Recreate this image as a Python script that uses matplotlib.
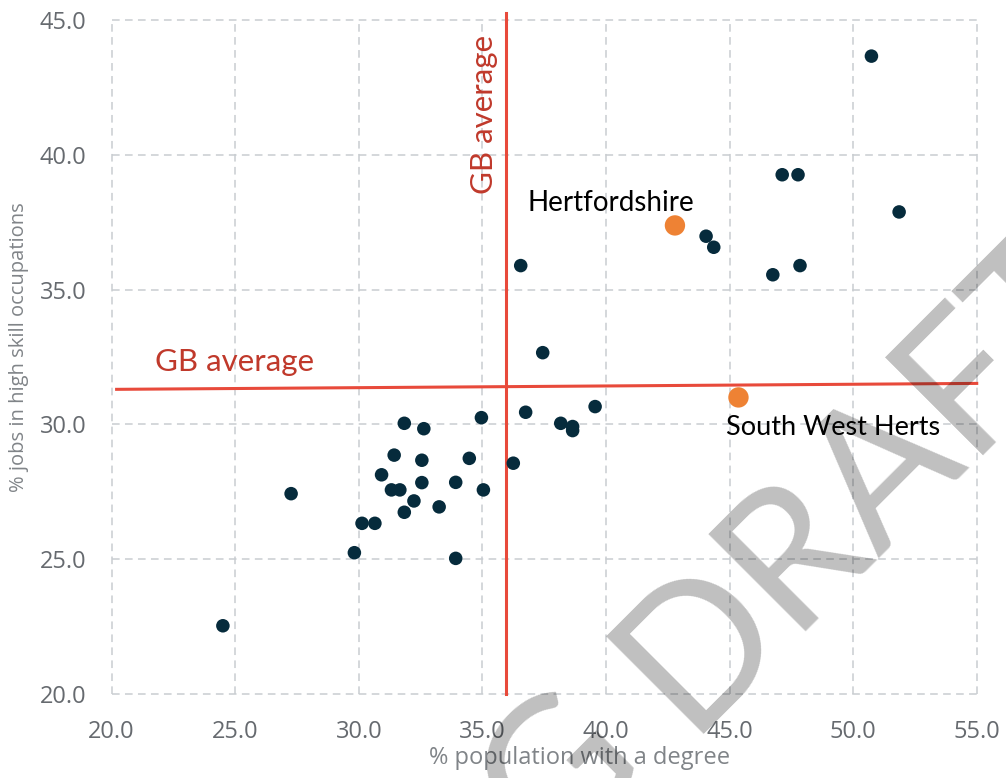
import numpy as np
import matplotlib
matplotlib.use("Agg")
import matplotlib.pyplot as plt

# % population with a degree vs % jobs in high skill occupations
deg = [24.5, 27.26, 29.82, 30.13, 30.65, 30.92, 31.43, 31.32, 31.66, 31.84,
       31.84, 32.23, 32.55, 32.63, 32.55, 33.25, 33.92, 33.92, 34.47, 34.96,
       35.04, 36.25, 36.75, 38.17, 38.65, 38.65, 39.56, 50.74, 47.13, 47.77,
       51.86, 44.05, 44.36, 36.55, 46.75, 47.85, 37.44]
jobs = [22.53, 27.43, 25.24, 26.33, 26.33, 28.13, 28.86, 27.57, 27.57, 30.04,
        26.74, 27.16, 28.67, 29.84, 27.84, 26.94, 27.85, 25.03, 28.74, 30.25,
        27.57, 28.56, 30.45, 30.04, 29.92, 29.77, 30.66, 43.66, 39.26, 39.26,
        37.88, 36.98, 36.57, 35.89, 35.55, 35.89, 32.66]

herts_names = ["Hertfordshire", "South West Herts"]
herts_deg = [42.79, 45.36]
herts_jobs = [37.38, 31.00]

gb_deg = 35.94
gb_jobs = [31.30, 31.52]   # line drawn with a slight tilt in the original

xticks = np.arange(20, 55.1, 5)
yticks = np.arange(20, 45.1, 5)

fig = plt.figure(figsize=(10.06, 7.78), dpi=100)
ax = fig.add_axes([0.111, 0.108, 0.8599, 0.8663])

ax.set_xlim(20, 55)
ax.set_ylim(20, 45)
for s in ax.spines.values():
    s.set_visible(False)

# dashed grid, including the outer frame
for v in xticks:
    ax.axvline(v, color="#c9cdd1", lw=1.1, ls=(0, (5, 3.5)), zorder=0, clip_on=False)
for v in yticks:
    ax.axhline(v, color="#c9cdd1", lw=1.1, ls=(0, (5, 3.5)), zorder=0, clip_on=False)

ax.set_xticks(xticks)
ax.set_yticks(yticks)
ax.set_xticklabels([f"{v:.1f}" for v in xticks])
ax.set_yticklabels([f"{v:.1f}" for v in yticks])
ax.tick_params(length=0, labelsize=17, labelcolor="#666a6f", pad=0)
ax.tick_params(axis="x", pad=19)
ax.tick_params(axis="y", pad=18)
for lab in ax.get_xticklabels() + ax.get_yticklabels():
    lab.set_family("Open Sans")

ax.set_xlabel("% population with a degree", family="Open Sans", fontsize=17,
              color="#808488", labelpad=1)
ax.xaxis.label.set_x(0.541)
ax.set_ylabel("% jobs in high skill occupations", family="Open Sans", fontsize=14.5,
              color="#808488", labelpad=8)
ax.yaxis.label.set_y(0.515)

# GB average lines
ax.plot([20.2, 55], gb_jobs, color="#e84a3b", lw=2.2, zorder=2, clip_on=False)
ax.plot([gb_deg, gb_deg], [20, 45.26], color="#e84a3b", lw=2.2, zorder=2, clip_on=False)
ax.text(21.76, 32.31, "GB average", family="Lato", fontsize=22.5, color="#c0392b",
        ha="left", va="center")
ax.text(35.05, 41.51, "GB average", family="Lato", fontsize=22.5, color="#c0392b",
        ha="center", va="center", rotation=90)

ax.scatter(deg, jobs, s=95, color="#062b3c", edgecolors="none", zorder=3)
ax.scatter(herts_deg, herts_jobs, s=215, color="#ee8234", edgecolors="none", zorder=3)
ax.text(36.84, 38.21, herts_names[0], family="Lato", fontsize=20, color="black",
        ha="left", va="center")
ax.text(44.86, 29.87, herts_names[1], family="Lato", fontsize=19.5, color="black",
        ha="left", va="center")

# watermark
wm_x, wm_y = 686 / 1006, 1 - 734 / 778
fig.text(wm_x, wm_y, "DRAFT", family="Lato", fontsize=138, color="black", alpha=0.25,
         rotation=45, rotation_mode="anchor", ha="left", va="baseline", zorder=10)
fig.text(wm_x, wm_y, "WORKING ", family="Lato", fontsize=138, color="black", alpha=0.25,
         rotation=45, rotation_mode="anchor", ha="right", va="baseline", zorder=10)

fig.savefig("out.png", dpi=100)
